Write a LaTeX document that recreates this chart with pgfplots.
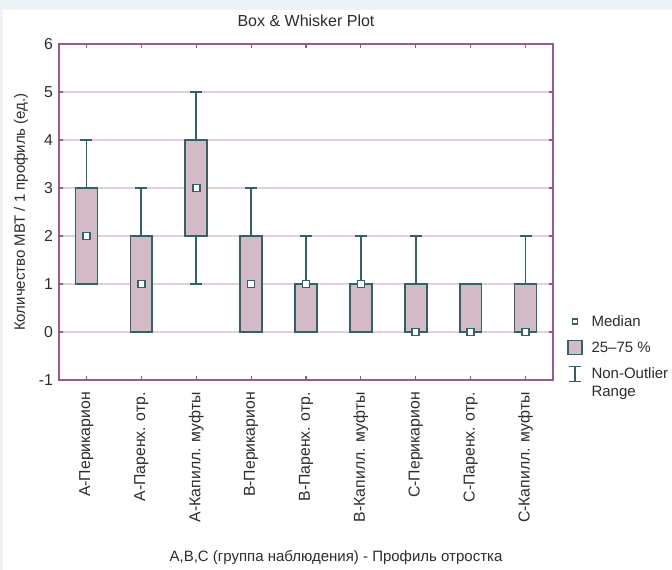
\documentclass[border=0pt]{standalone}
\usepackage{pgfplots}
\pgfplotsset{compat=1.18}
\usepgfplotslibrary{statistics}
\usepackage{fontspec}
\setmainfont{Liberation Sans}
\definecolor{bgc}{RGB}{237,242,247}
\definecolor{framec}{RGB}{155,88,138}
\definecolor{gridc}{RGB}{228,208,218}
\definecolor{boxf}{RGB}{212,186,198}
\definecolor{edgec}{RGB}{48,100,104}
\definecolor{txt}{RGB}{45,45,45}
\newcommand{\tickfont}{\fontsize{15.8bp}{18bp}\selectfont}
\newcommand{\labfont}{\fontsize{15bp}{17bp}\selectfont}
\newcommand{\legfont}{\fontsize{15bp}{18bp}\selectfont}
\newcommand{\titfont}{\fontsize{16bp}{18bp}\selectfont}
\pgfplotsset{
  bw/.style={draw=edgec, fill=boxf, line width=1.7bp, forget plot,
    boxplot/draw direction=y,
    boxplot/box extend=0.4, boxplot/whisker extend=0.22,
    boxplot/every whisker/.style={draw=edgec, line width=1.7bp},
    boxplot/every box/.style={draw=edgec, fill=boxf, line width=1.7bp},
    boxplot/draw/median/.code={}},
}
\begin{document}
\begin{tikzpicture}
\fill[bgc] (0,0) rectangle (672bp,570bp);
\fill[white] (3bp,0) rectangle (672bp,560bp);
\begin{axis}[
  at={(59bp,190bp)}, anchor=south west,
  scale only axis, width=494bp, height=336bp,
  xmin=-0.5, xmax=8.5, ymin=-1, ymax=6,
  xtick={0,...,8},
  xticklabels={A-Перикарион, A-Паренх. отр., A-Капилл. муфты, B-Перикарион, B-Паренх. отр., B-Капилл. муфты, C-Перикарион, C-Паренх. отр., C-Капилл. муфты},
  ytick={-1,...,6},
  yticklabels={-1,0,1,2,3,4,5,6},
  tick align=inside, major tick length=4bp,
  every tick/.style={framec, line width=1.2bp},
  axis line style={framec, line width=1.6bp},
  ymajorgrids, grid style={gridc, line width=1.2bp},
  ticklabel style={font=\tickfont, text=txt},
  xticklabel style={rotate=90, anchor=east, inner sep=0pt},
  xticklabel shift=12bp,
  yticklabel style={inner sep=0pt},
  yticklabel shift=6bp,
  title={Box \& Whisker Plot},
  title style={font=\titfont, text=txt, at={(axis description cs:0.5,1.0357)}, anchor=base, inner sep=0pt},
  xlabel={A,B,C (группа наблюдения) - Профиль отростка},
  xlabel style={font=\labfont, text=txt, at={(axis description cs:0.5607,-0.5387)}, anchor=base, inner sep=0pt},
  ylabel={Количество МВТ / 1 профиль (ед.)},
  ylabel style={font=\labfont, text=txt, at={(axis description cs:-0.0769,0.5)}, anchor=center, rotate=0, inner sep=0pt},
  legend style={at={(axis description cs:1.028,0.199)}, anchor=north west, draw=none, fill=none,
    font=\legfont, text=txt, row sep=10bp, inner sep=0pt,
    /tikz/every odd column/.append style={column sep=7bp}},
  legend cell align=left,
]
\addplot[bw, boxplot prepared={draw position=0, lower whisker=1, lower quartile=1, median=2, upper quartile=3, upper whisker=4}] coordinates {};
\addplot[bw, boxplot prepared={draw position=1, lower whisker=0, lower quartile=0, median=1, upper quartile=2, upper whisker=3}] coordinates {};
\addplot[bw, boxplot prepared={draw position=2, lower whisker=1, lower quartile=2, median=3, upper quartile=4, upper whisker=5}] coordinates {};
\addplot[bw, boxplot prepared={draw position=3, lower whisker=0, lower quartile=0, median=1, upper quartile=2, upper whisker=3}] coordinates {};
\addplot[bw, boxplot prepared={draw position=4, lower whisker=0, lower quartile=0, median=1, upper quartile=1, upper whisker=2}] coordinates {};
\addplot[bw, boxplot prepared={draw position=5, lower whisker=0, lower quartile=0, median=1, upper quartile=1, upper whisker=2}] coordinates {};
\addplot[bw, boxplot prepared={draw position=6, lower whisker=0, lower quartile=0, median=0, upper quartile=1, upper whisker=2}] coordinates {};
\addplot[bw, boxplot prepared={draw position=7, lower whisker=0, lower quartile=0, median=0, upper quartile=1, upper whisker=1}] coordinates {};
\addplot[bw, boxplot prepared={draw position=8, lower whisker=0, lower quartile=0, median=0, upper quartile=1, upper whisker=2}] coordinates {};
% medians
\addplot[forget plot, only marks, mark=square*, mark size=3.5bp, mark options={fill=white, draw=edgec, line width=1.6bp}]
  coordinates {(0,2) (1,1) (2,3) (3,1) (4,1) (5,1) (6,0) (7,0) (8,0)};
\addlegendimage{legend image code/.code={\draw[edgec, fill=white, line width=1.4bp] (4.5bp,-2.5bp) rectangle (9.5bp,2.5bp);}}
\addlegendentry{Median}
\addlegendimage{legend image code/.code={\draw[edgec, fill=boxf, line width=1.5bp] (0bp,-7bp) rectangle (14bp,7bp);}}
\addlegendentry{25–75 \%}
\addlegendimage{legend image code/.code={\draw[edgec, line width=1.5bp] (7bp,1.5bp) -- (7bp,16.5bp) (1bp,16.5bp) -- (13bp,16.5bp) (1bp,1.5bp) -- (13bp,1.5bp);}}
\addlegendentry[align=left]{Non-Outlier\\Range}
\end{axis}
\end{tikzpicture}
\end{document}
